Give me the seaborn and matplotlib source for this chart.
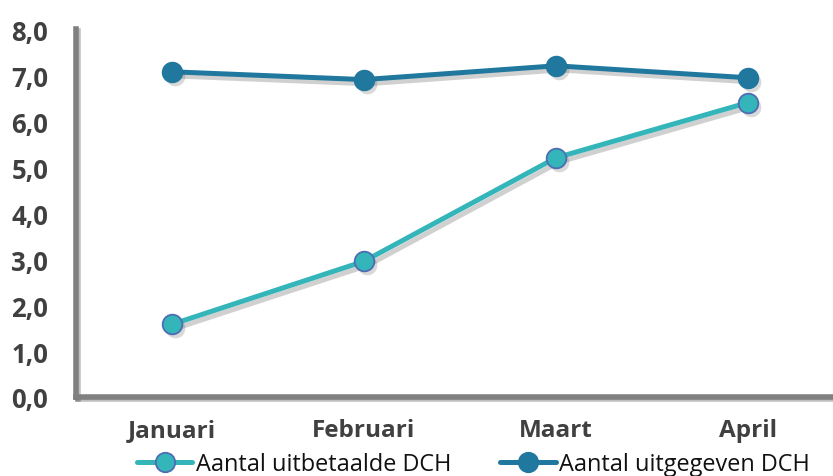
import pandas as pd
import matplotlib.pyplot as plt
import matplotlib.patheffects as pe
import matplotlib.transforms as mtransforms
from matplotlib.lines import Line2D
import seaborn as sns

# chart data
maanden = ['Januari', 'Februari', 'Maart', 'April']
uitbetaald = [1.58, 2.95, 5.2, 6.4]
uitgegeven = [7.07, 6.9, 7.2, 6.94]
reeksen = ['Aantal uitbetaalde DCH', 'Aantal uitgegeven DCH']

df = pd.DataFrame({
    'Maand': maanden * 2,
    'Aantal': uitbetaald + uitgegeven,
    'Reeks': [reeksen[0]] * 4 + [reeksen[1]] * 4,
})

sns.set_style('white')
plt.rcParams['font.family'] = ['Open Sans', 'DejaVu Sans']

kleuren = {reeksen[0]: '#33B5B9', reeksen[1]: '#21789E'}
randen = {reeksen[0]: '#4E6DB3', reeksen[1]: '#21789E'}

fig = plt.figure(figsize=(8.33, 4.77), dpi=100)
ax = fig.add_axes([76 / 833, 1 - 398 / 477, 768 / 833, 368 / 477])

# offset for the drop shadows
verschuiving = ax.transData + mtransforms.ScaledTranslation(2.5 / 72, -3 / 72, fig.dpi_scale_trans)
schaduw = [pe.SimpleLineShadow(offset=(2.5, -3), alpha=0.25, shadow_color='#444444'), pe.Normal()]

for reeks in reeksen:
    sub = df[df['Reeks'] == reeks]
    sns.lineplot(data=sub, x='Maand', y='Aantal', ax=ax, color=kleuren[reeks],
                 linewidth=3.6, legend=False, path_effects=schaduw, zorder=3)
    sns.scatterplot(data=sub, x='Maand', y='Aantal', ax=ax, color='#444444', s=200,
                    alpha=0.2, linewidth=0, legend=False, zorder=3.5, transform=verschuiving)
    sns.scatterplot(data=sub, x='Maand', y='Aantal', ax=ax, color=kleuren[reeks], s=200,
                    edgecolor=randen[reeks], linewidth=1.3, legend=False, zorder=4, clip_on=False)

ax.set_xlim(-0.5, 3.5)
ax.set_ylim(0, 8)
ax.set_yticks(range(0, 9))
ax.set_yticklabels([f'{v},0' for v in range(0, 9)])
ax.set_xlabel('')
ax.set_ylabel('')

for s in ['top', 'right']:
    ax.spines[s].set_visible(False)
for s in ['left', 'bottom']:
    ax.spines[s].set_color('#808080')
    ax.spines[s].set_linewidth(4)
    ax.spines[s].set_path_effects([pe.SimpleLineShadow(offset=(1.5, -1.5), alpha=0.25), pe.Normal()])

ax.tick_params(axis='both', length=0, labelcolor='#404040')
ax.tick_params(axis='y', pad=20, labelsize=18.5)
ax.tick_params(axis='x', pad=15, labelsize=17.5)
for t in ax.get_xticklabels() + ax.get_yticklabels():
    t.set_fontweight('bold')

handles = [Line2D([], [], color=kleuren[r], linewidth=3.6, marker='o', markersize=14,
                  markerfacecolor=kleuren[r], markeredgecolor=randen[r], markeredgewidth=1.3)
           for r in reeksen]
ax.legend(handles, reeksen, loc='center left', bbox_to_anchor=(137 / 833, 12 / 477),
          bbox_transform=fig.transFigure, ncol=2, frameon=False, fontsize=16.9,
          handlelength=2.35, handletextpad=0.15, columnspacing=2.1, borderpad=0,
          borderaxespad=0, labelcolor='#111111')

fig.savefig('out.png', dpi=100)
